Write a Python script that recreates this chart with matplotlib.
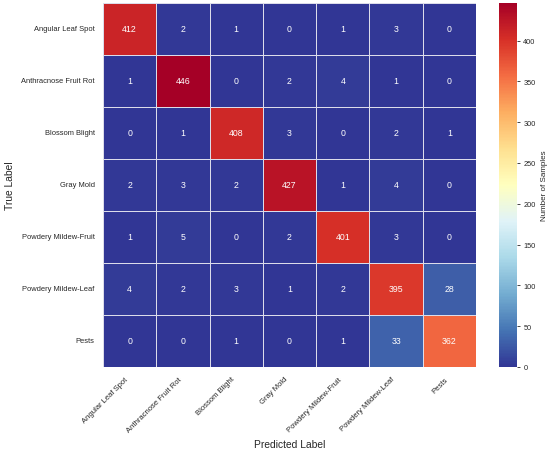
import matplotlib
matplotlib.use("Agg")
import matplotlib.pyplot as plt
import seaborn as sns
import numpy as np

classes = ["Angular Leaf Spot", "Anthracnose Fruit Rot", "Blossom Blight", "Gray Mold",
           "Powdery Mildew-Fruit", "Powdery Mildew-Leaf", "Pests"]
row_angular = [412, 2, 1, 0, 1, 3, 0]
row_anthracnose = [1, 446, 0, 2, 4, 1, 0]
row_blossom = [0, 1, 408, 3, 0, 2, 1]
row_gray = [2, 3, 2, 427, 1, 4, 0]
row_pm_fruit = [1, 5, 0, 2, 401, 3, 0]
row_pm_leaf = [4, 2, 3, 1, 2, 395, 28]
row_pests = [0, 0, 1, 0, 1, 33, 362]

cm = np.array([row_angular, row_anthracnose, row_blossom, row_gray,
               row_pm_fruit, row_pm_leaf, row_pests])

sns.set_theme(style="white")
plt.rcParams['font.family'] = ['Liberation Sans', 'DejaVu Sans']

W, H = 550, 452
fig = plt.figure(figsize=(5.5, 4.52), dpi=100)
ax = fig.add_axes([103 / W, 1 - 368 / H, 373 / W, 364 / H])
cax = fig.add_axes([499 / W, 1 - 368 / H, 18 / W, 364 / H])

sns.heatmap(cm, ax=ax, cbar_ax=cax, cmap="RdYlBu_r", annot=True, fmt="d",
            linewidths=0.6, linecolor="#dcdcea",
            annot_kws={"color": "white", "fontsize": 6.3},
            xticklabels=classes, yticklabels=classes,
            cbar_kws={"label": "Number of Samples"})

ax.set_xticklabels(classes, rotation=45, ha="right", fontsize=5.5)
ax.set_yticklabels(classes, rotation=0, fontsize=5.4)
ax.tick_params(axis="both", length=0, pad=6)
ax.set_xlabel("Predicted Label", fontsize=7.4, labelpad=4)
ax.set_ylabel("True Label", fontsize=7.4, labelpad=4.5)

cax.tick_params(labelsize=5.3, length=2.5, width=0.6, left=False, right=True, pad=2)
cax.yaxis.label.set_size(5.8)
cax.set_yticks(range(0, 401, 50))

fig.savefig("out.png", dpi=100)
